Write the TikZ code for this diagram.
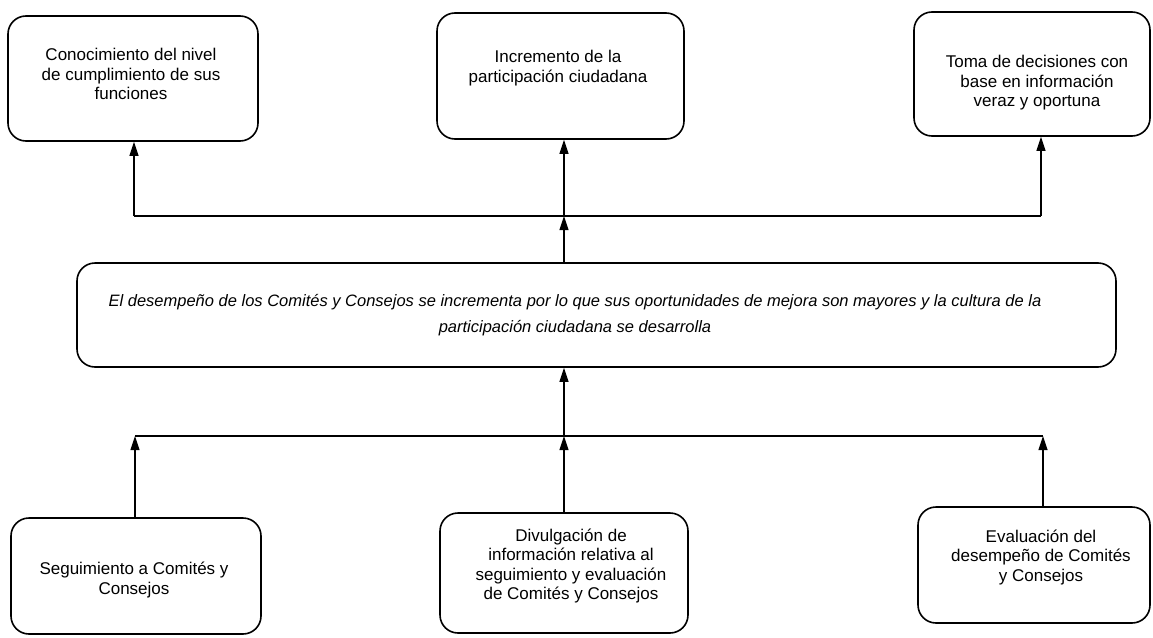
\documentclass[tikz,border=0pt]{standalone}
\usepackage{fontspec}
\setmainfont{Liberation Sans}
\usetikzlibrary{arrows.meta}
\begin{document}
\begin{tikzpicture}[x=1pt,y=-1pt,
  box/.style={draw, line width=1.6pt, rounded corners=18pt, inner sep=0pt},
  lbl/.style={align=center, font=\fontsize{17}{19.5}\selectfont, inner sep=0pt},
  midlbl/.style={align=center, font=\fontsize{16.5}{26}\selectfont\itshape, inner sep=0pt},
  conn/.style={line width=1.1pt},
  arr/.style={conn, -{Triangle[length=14pt,width=9pt]}}]
\useasboundingbox (0,0) rectangle (1153,637);
% boxes
\node[box, minimum width=250pt, minimum height=125pt] (tl) at (133,78.5) {};
\node[box, minimum width=247pt, minimum height=126pt] (tm) at (560.5,76) {};
\node[box, minimum width=236pt, minimum height=124pt] (tr) at (1032,74) {};
\node[box, minimum width=1039pt, minimum height=104pt] (mid) at (596.5,315) {};
\node[box, minimum width=250pt, minimum height=116pt] (bl) at (136,576) {};
\node[box, minimum width=248pt, minimum height=120pt] (bm) at (564,573) {};
\node[box, minimum width=232pt, minimum height=116pt] (br) at (1034,565) {};
% texts
\node[lbl] (tlt) at (131,74) {Conocimiento del nivel\\de cumplimiento de sus\\funciones};
\node[lbl] (tmt) at (558,68) {Incremento de la\\participación ciudadana};
\node[lbl] (trt) at (1037,83) {Toma de decisiones con\\base en información\\veraz y oportuna};
\node[midlbl] (midt) at (575,315) {El desempeño de los Comités y Consejos se incrementa por lo que sus oportunidades de mejora son mayores y la cultura de la\\participación ciudadana se desarrolla};
\node[lbl] (blt) at (134,580) {Seguimiento a Comités y\\Consejos};
\node[lbl] (bmt) at (571,566) {Divulgación de\\información relativa al\\seguimiento y evaluación\\de Comités y Consejos};
\node[lbl] (brt) at (1041,557) {Evaluación del\\desempeño de Comités\\y Consejos};
% junctions
\coordinate (ja) at (134,216);
\coordinate (jb) at (564,216);
\coordinate (jc) at (1041,216);
\coordinate (ka) at (135,436);
\coordinate (kb) at (564,436);
\coordinate (kc) at (1043,436);
% upper connectors
\draw[conn] (ja) -- (jc);
\draw[arr] (ja) -- (ja |- tl.south);
\draw[arr] (jc) -- (jc |- tr.south);
\draw[arr] (mid.north -| jb) -- (jb);
\draw[arr] (jb) -- (jb |- tm.south);
% lower connectors
\draw[conn] (ka) -- (kc);
\draw[arr] (kb) -- (kb |- mid.south);
\draw[arr] (bl.north -| ka) -- (ka);
\draw[arr] (bm.north -| kb) -- (kb);
\draw[arr] (br.north -| kc) -- (kc);
\end{tikzpicture}
\end{document}
